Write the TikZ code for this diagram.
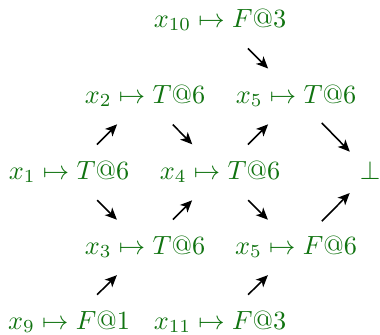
\documentclass[tikz,border=0pt]{standalone}
\usetikzlibrary{arrows.meta}
\definecolor{nodegreen}{RGB}{16,115,16}
\begin{document}
\begin{tikzpicture}[x=0.38pt,y=-0.38pt,
  lbl/.style={text=nodegreen, inner sep=0pt, anchor=base},
  conn/.style={-{Stealth[length=4.5pt,width=4pt,inset=1.2pt]}, line width=0.6pt, shorten <=15pt, shorten >=15pt},
  tobot/.style={-{Stealth[length=4.5pt,width=4pt,inset=1.2pt]}, line width=0.6pt, shorten <=14pt, shorten >=11pt}]
\useasboundingbox (0,0) rectangle (380,334);
\node[lbl] (x10) at (220,27) {$x_{10} \mapsto F@3$};
\node[lbl] (x2) at (145,103) {$x_2 \mapsto T@6$};
\node[lbl] (x5t) at (296,103) {$x_5 \mapsto T@6$};
\node[lbl] (x1) at (69,179) {$x_1 \mapsto T@6$};
\node[lbl] (x4) at (220,179) {$x_4 \mapsto T@6$};
\node[lbl] (bot) at (370,179) {$\bot$};
\node[lbl] (x3) at (145,254) {$x_3 \mapsto T@6$};
\node[lbl] (x5f) at (296,254) {$x_5 \mapsto F@6$};
\node[lbl] (x9) at (69,329) {$x_9 \mapsto F@1$};
\node[lbl] (x11) at (220,329) {$x_{11} \mapsto F@3$};
\draw[conn] ([yshift=2.5pt]x10.base) -- ([yshift=2.5pt]x5t.base);
\draw[conn] ([yshift=2.5pt]x1.base) -- ([yshift=2.5pt]x2.base);
\draw[conn] ([yshift=2.5pt]x2.base) -- ([yshift=2.5pt]x4.base);
\draw[conn] ([yshift=2.5pt]x4.base) -- ([yshift=2.5pt]x5t.base);
\draw[tobot] ([yshift=2.5pt]x5t.base) -- ([yshift=2.5pt]bot.base);
\draw[conn] ([yshift=2.5pt]x1.base) -- ([yshift=2.5pt]x3.base);
\draw[conn] ([yshift=2.5pt]x3.base) -- ([yshift=2.5pt]x4.base);
\draw[conn] ([yshift=2.5pt]x4.base) -- ([yshift=2.5pt]x5f.base);
\draw[tobot] ([yshift=2.5pt]x5f.base) -- ([yshift=2.5pt]bot.base);
\draw[conn] ([yshift=2.5pt]x9.base) -- ([yshift=2.5pt]x3.base);
\draw[conn] ([yshift=2.5pt]x11.base) -- ([yshift=2.5pt]x5f.base);
\end{tikzpicture}
\end{document}
